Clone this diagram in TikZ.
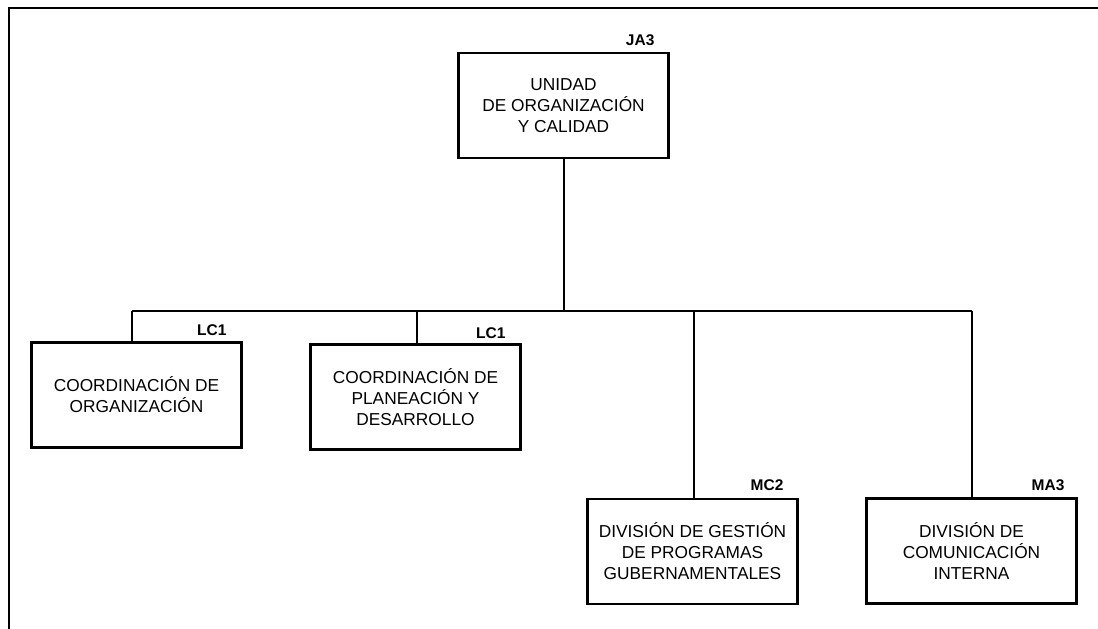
\documentclass[tikz,border=0pt]{standalone}
\usepackage{fontspec}
\setmainfont{Liberation Sans}
\begin{document}
\begin{tikzpicture}[x=1pt,y=-1pt,
  unit/.style={draw=black, line width=2.2pt, rectangle, minimum width=210pt, minimum height=105pt,
    align=center, inner sep=0pt, font=\fontsize{17.3}{21}\selectfont},
  lab/.style={anchor=base east, inner sep=0pt, font=\fontsize{15.5}{18}\selectfont\bfseries},
  wire/.style={line width=2.2pt}]
\useasboundingbox (0,0) rectangle (1098,629);
\draw[line width=2.4pt] (9,629) -- (9,8) -- (1098,8);

\node[unit] (top) at (563.5,105.5) {UNIDAD\\DE ORGANIZACIÓN\\Y CALIDAD};
\node[unit] (b1) at (136.5,395) {COORDINACIÓN DE\\ORGANIZACIÓN};
\node[unit] (b2) at (415.5,397) {COORDINACIÓN DE\\PLANEACIÓN Y\\DESARROLLO};
\node[unit] (b3) at (692.5,551.5) {DIVISIÓN DE GESTIÓN\\DE PROGRAMAS\\GUBERNAMENTALES};
\node[unit] (b4) at (971.5,551) {DIVISIÓN DE\\COMUNICACIÓN\\INTERNA};

\node[lab] (ltop) at ([xshift=-15pt,yshift=6pt]top.north east) {JA3};
\node[lab] (l1) at ([xshift=-16pt,yshift=6pt]b1.north east) {LC1};
\node[lab] (l2) at ([xshift=-16pt,yshift=5pt]b2.north east) {LC1};
\node[lab] (l3) at ([xshift=-15pt,yshift=7pt]b3.north east) {MC2};
\node[lab] (l4) at ([xshift=-13pt,yshift=7pt]b4.north east) {MA3};

\coordinate (hub) at (564,311);
\coordinate (p1) at (132,311);
\coordinate (p2) at (417,311);
\coordinate (p3) at (694,311);
\coordinate (p4) at (972,311);

\draw[wire] (top.south -| hub) -- (hub);
\draw[wire] (p1) -- (p4);
\draw[wire] (p1) -- (p1 |- b1.north);
\draw[wire] (p2) -- (p2 |- b2.north);
\draw[wire] (p3) -- (p3 |- b3.north);
\draw[wire] (p4) -- (p4 |- b4.north);
\end{tikzpicture}
\end{document}
